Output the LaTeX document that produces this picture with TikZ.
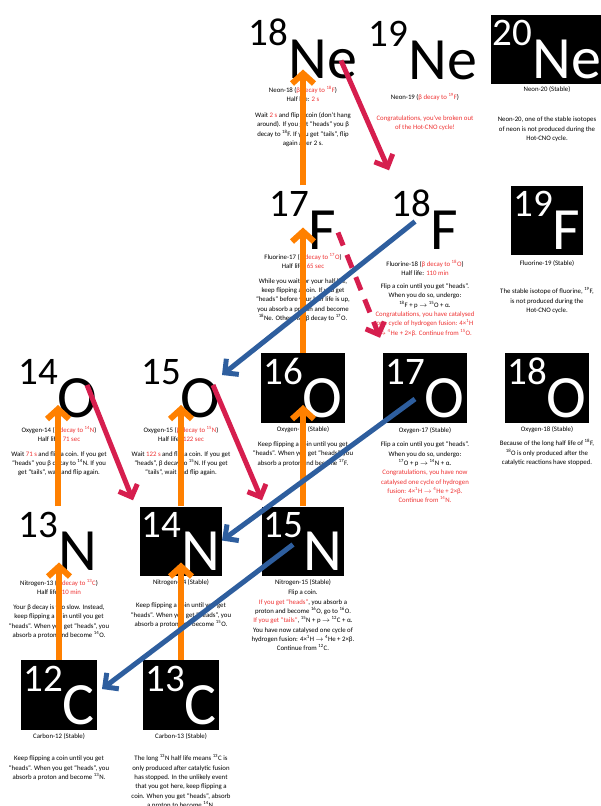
\documentclass[tikz,border=0pt]{standalone}
\usepackage{fontspec}
\setmainfont{Carlito}
\usetikzlibrary{arrows.meta,calc}

\definecolor{pathorange}{RGB}{255,128,0}
\definecolor{betared}{RGB}{214,30,78}
\definecolor{alphablue}{RGB}{46,94,158}
\definecolor{notered}{RGB}{238,50,50}

\newcommand{\iso}[2]{\raisebox{33pt}{\fontsize{39}{39}\selectfont #1}\fontsize{60}{60}\selectfont #2}
\newcommand{\rd}[1]{{\color{notered}#1}}
\newcommand{\up}[1]{\textsuperscript{#1}}
\newcommand{\yields}{\ensuremath{\rightarrow}}

\tikzset{
  isolabel/.style={anchor=base, inner xsep=2pt, inner ysep=0pt, text height=64pt, text depth=5.5pt},
  isostable/.style={isolabel, fill=black, text=white},
  notes/.style={anchor=north, align=center, inner sep=0pt, font=\fontsize{6.8}{9.3}\selectfont},
  protonarrow/.style={pathorange, line width=6pt, -{Straight Barb[length=10pt,width=22pt]}},
  betaarrow/.style={betared, line width=5pt, -{Straight Barb[length=10pt,width=20pt]}},
  alphaarrow/.style={alphablue, line width=5pt, -{Straight Barb[length=10pt,width=20pt]}}
}

\begin{document}
\begin{tikzpicture}[x=1pt,y=-1pt]
\useasboundingbox (0,0) rectangle (601,806);
% isotopes
\node[isolabel]  (ne18) at (303,78.5) {\iso{18}{Ne}};
\node[isolabel]  (ne19) at (423,79) {\iso{19}{Ne}};
\node[isostable] (ne20) at (547,78.5) {\iso{20}{Ne}};
\node[isolabel]  (f17) at (303,249.5) {\iso{17}{F}};
\node[isolabel]  (f18) at (425,249.5) {\iso{18}{F}};
\node[isostable] (f19) at (547,249.5) {\iso{19}{F}};
\node[isolabel]  (o14) at (58,417) {\iso{14}{O}};
\node[isolabel]  (o15) at (181,417) {\iso{15}{O}};
\node[isostable] (o16) at (303,417) {\iso{16}{O}};
\node[isostable] (o17) at (425,417) {\iso{17}{O}};
\node[isostable] (o18) at (547,417) {\iso{18}{O}};
\node[isolabel]  (n13) at (58,570.5) {\iso{13}{N}};
\node[isostable] (n14) at (181,570.5) {\iso{14}{N}};
\node[isostable] (n15) at (303,570.5) {\iso{15}{N}};
\node[isostable] (c12) at (59,724) {\iso{12}{C}};
\node[isostable] (c13) at (181,724) {\iso{13}{C}};

% notes, neon
\node[notes] (ne18txt) at (303,86) {Neon-18 (\rd{β decay to \up{18}F})\\
  Half life: \rd{2 s}\\[6.5pt]
  Wait \rd{2 s} and flip a coin (don’t hang\\
  around). If you get “heads” you β\\
  decay to \up{18}F. If you get “tails”, flip\\
  again after 2 s.};
\node[notes] (ne19txt) at (425,93) {Neon-19 (\rd{β decay to \up{19}F})\\[11.5pt]
  \rd{Congratulations, you’ve broken out}\\
  \rd{of the Hot-CNO cycle!}};
\node[notes] (ne20txt) at (547,86) {Neon-20 (Stable)\\[21.5pt]
  Neon-20, one of the stable isotopes\\
  of neon is not produced during the\\
  Hot-CNO cycle.};
% notes, fluorine
\node[notes] (f17txt) at (303,253) {Fluorine-17 (\rd{β decay to \up{17}O})\\
  Half life: \rd{65 sec}\\[5.5pt]
  While you wait for your half life,\\
  keep flipping a coin. If you get\\
  “heads” before your half life is up,\\
  you absorb a proton and become\\
  \up{18}Ne. Otherwise β decay to \up{17}O.};
\node[notes] (f18txt) at (425,260) {Fluorine-18 (\rd{β decay to \up{18}O})\\
  Half life: \rd{110 min}\\[3.5pt]
  Flip a coin until you get “heads”.\\
  When you do so, undergo:\\
  \up{18}F + p \yields{} \up{15}O + α.\\
  \rd{Congratulations, you have catalysed}\\
  \rd{one cycle of hydrogen fusion: 4×\up{1}H}\\
  \rd{\yields{} \up{4}He + 2×β. Continue from \up{15}O.}};
\node[notes] (f19txt) at (547,260) {Fluorine-19 (Stable)\\[19.5pt]
  The stable isotope of fluorine, \up{19}F,\\
  is not produced during the\\
  Hot-CNO cycle.};
% notes, oxygen
\node[notes] (o14txt) at (59,426) {Oxygen-14 (\rd{β decay to \up{14}N})\\
  Half life: \rd{71 sec}\\[5.5pt]
  Wait \rd{71 s} and flip a coin. If you get\\
  “heads” you β decay to \up{14}N. If you\\
  get “tails”, wait and flip again.};
\node[notes] (o15txt) at (181,426) {Oxygen-15 (\rd{β decay to \up{15}N})\\
  Half life: \rd{122 sec}\\[5.5pt]
  Wait \rd{122 s} and flip a coin. If you get\\
  “heads”, β decay to \up{15}N. If you get\\
  “tails”, wait and flip again.};
\node[notes] (o16txt) at (303,426) {Oxygen-16 (Stable)\\[6pt]
  Keep flipping a coin until you get\\
  “heads”. When you get “heads”, you\\
  absorb a proton and become \up{17}F.};
\node[notes] (o17txt) at (425,427) {Oxygen-17 (Stable)\\[5.5pt]
  Flip a coin until you get “heads”.\\
  When you do so, undergo:\\
  \up{17}O + p \yields{} \up{14}N + α.\\
  \rd{Congratulations, you have now}\\
  \rd{catalysed one cycle of hydrogen}\\
  \rd{fusion: 4×\up{1}H \yields{} \up{4}He + 2×β.}\\
  \rd{Continue from \up{14}N.}};
\node[notes] (o18txt) at (547,426) {Oxygen-18 (Stable)\\[5.5pt]
  Because of the long half life of \up{18}F,\\
  \up{18}O is only produced after the\\
  catalytic reactions have stopped.};
% notes, nitrogen
\node[notes] (n13txt) at (59,579) {Nitrogen-13 (\rd{β decay to \up{13}C})\\
  Half life: \rd{10 min}\\[5.5pt]
  Your β decay is too slow. Instead,\\
  keep flipping a coin until you get\\
  “heads”. When you get “heads”, you\\
  absorb a proton and become \up{14}O.};
\node[notes] (n14txt) at (181,579) {Nitrogen-14 (Stable)\\[14.5pt]
  Keep flipping a coin until you get\\
  “heads”. When you get “heads”, you\\
  absorb a proton and become \up{15}O.};
\node[notes] (n15txt) at (303,579) {Nitrogen-15 (Stable)\\[1.5pt]
  Flip a coin.\\
  \rd{If you get “heads”}, you absorb a\\
  proton and become \up{16}O, go to \up{16}O.\\
  \rd{If you get “tails”}, \up{15}N + p \yields{} \up{12}C + α.\\
  You have now catalysed one cycle of\\
  hydrogen fusion: 4×\up{1}H \yields{} \up{4}He + 2×β.\\
  Continue from \up{12}C.};
% notes, carbon
\node[notes] (c12txt) at (59,733) {Carbon-12 (Stable)\\[13.5pt]
  Keep flipping a coin until you get\\
  “heads”. When you get “heads”, you\\
  absorb a proton and become \up{13}N.};
\node[notes] (c13txt) at (181,733) {Carbon-13 (Stable)\\[13.5pt]
  The long \up{13}N half life means \up{13}C is\\
  only produced after catalytic fusion\\
  has stopped. In the unlikely event\\
  that you got here, keep flipping a\\
  coin. When you get “heads”, absorb\\
  a proton to become \up{14}N.};

% proton captures
\draw[protonarrow] (c12.north) -- ($(c12.north |- n13.base)+(0,-8)$);
\draw[protonarrow] (o14.south |- n13.north) -- ($(o14.base)+(0,-12)$);
\draw[protonarrow] (c13.north) -- ($(n14.base)+(0,-8)$);
\draw[protonarrow] (n14.north) -- ($(o15.base)+(0,-12)$);
\draw[protonarrow] (n15.north) -- ($(o16.base)+(0,-12)$);
\draw[protonarrow] (o16.north) -- ($(f17.base)+(0,-22)$);
\draw[protonarrow] (f17.north) -- ($(ne18.base)+(0,-9)$);
% beta decays
\draw[betaarrow] ($(ne18.base)+(38,-18)$) -- ($(f18.north)+(-36,-15)$);
\draw[betaarrow, dash pattern=on 14pt off 10pt] ($(f17.base)+(35,-17)$) -- ($(o17.north)+(-45,-15)$);
\draw[betaarrow] ($(o14.base)+(29,-32)$) -- ($(n14.north)+(-48,-6)$);
\draw[betaarrow] ($(o15.base)+(32,-32)$) -- ($(n15.north)+(-41,-6)$);
% alpha emission
\draw[alphaarrow] ($(f18.base)+(-10,-28)$) -- ($(o15.base)+(41,-42)$);
\draw[alphaarrow] ($(o17.base)+(-10,-18)$) -- ($(n14.base)+(41,-30)$);
\draw[alphaarrow] ($(n15.base)+(-10,-26)$) -- ($(c12.base)+(43,-35)$);
\end{tikzpicture}
\end{document}
